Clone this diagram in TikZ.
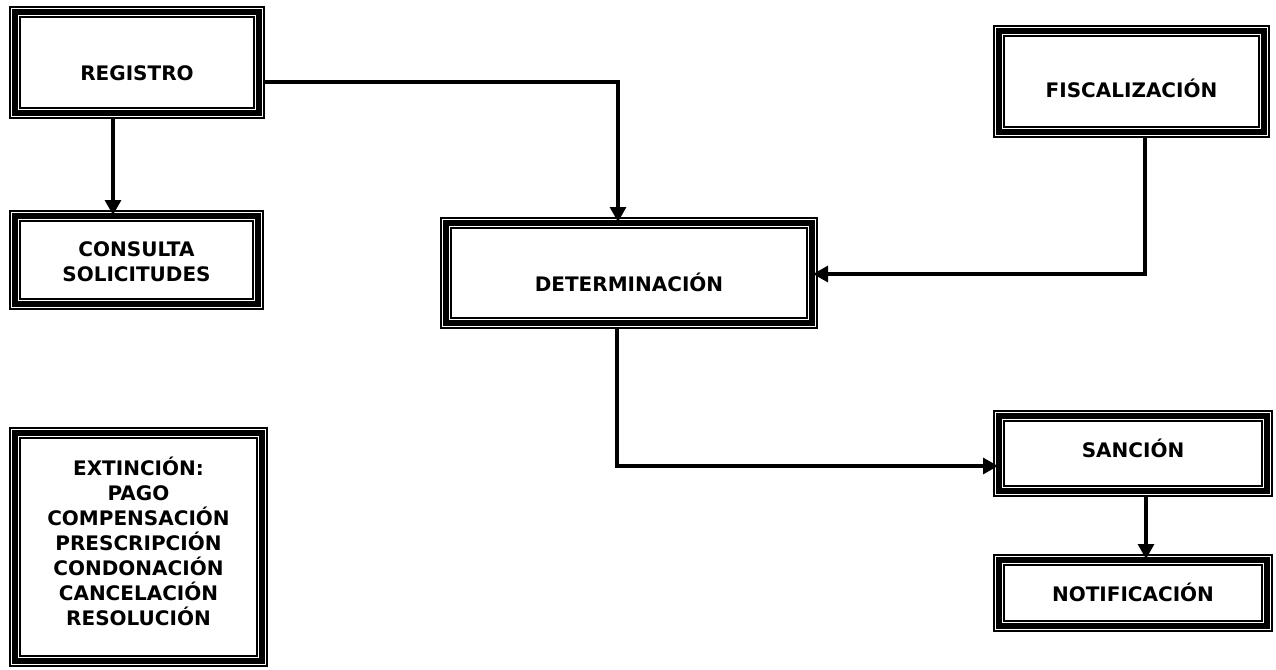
\documentclass[tikz,border=0pt]{standalone}
\usepackage{fontspec}
\setmainfont{DejaVu Sans}
\usetikzlibrary{arrows.meta}
\begin{document}
\begin{tikzpicture}[x=1pt,y=-1pt,
  % box with a thin-thick-thin frame drawn inside its outline
  tribox/.style 2 args={minimum width=#1pt, minimum height=#2pt,
    inner sep=0pt, outer sep=0pt, fill=white,
    path picture={
      \draw[line width=1.8pt]
        ([shift={(0.9pt,-0.9pt)}]path picture bounding box.north west) rectangle
        ([shift={(-0.9pt,0.9pt)}]path picture bounding box.south east);
      \draw[line width=5.6pt]
        ([shift={(5.8pt,-5.8pt)}]path picture bounding box.north west) rectangle
        ([shift={(-5.8pt,5.8pt)}]path picture bounding box.south east);
      \draw[line width=2pt]
        ([shift={(11.4pt,-11.4pt)}]path picture bounding box.north west) rectangle
        ([shift={(-11.4pt,11.4pt)}]path picture bounding box.south east);
    }},
  lbl/.style={anchor=base, inner sep=0pt, align=center,
    font=\bfseries\fontsize{20}{25}\selectfont},
  conn/.style={line width=3.2pt, -{Triangle[length=15pt,width=16pt]},
    shorten >=-5pt}
]
\useasboundingbox (0,0) rectangle (1276,669);
\fill[white] (0,0) rectangle (1276,669);

% boxes
\node[tribox={256}{113}] (registro)      at (137,62.5)   {};
\node[tribox={255}{100}] (consulta)      at (136.5,260)  {};
\node[tribox={259}{240}] (extincion)     at (138.5,547)  {};
\node[tribox={378}{112}] (determinacion) at (629,273)    {};
\node[tribox={277}{113}] (fiscalizacion) at (1131.5,81.5){};
\node[tribox={280}{87}]  (sancion)       at (1133,453.5) {};
\node[tribox={280}{78}]  (notificacion)  at (1133,593)   {};

% texts (multi-line texts sit on the baseline of their last line)
\node[lbl] (registro-t)      at (137,80)     {REGISTRO};
\node[lbl] (consulta-t)      at (136.5,281.7){CONSULTA\\SOLICITUDES};
\node[lbl] (extincion-t)     at (138.5,625)  {EXTINCIÓN:\\PAGO\\COMPENSACIÓN\\PRESCRIPCIÓN\\CONDONACIÓN\\CANCELACIÓN\\RESOLUCIÓN};
\node[lbl] (determinacion-t) at (629,291)    {DETERMINACIÓN};
\node[lbl] (fiscalizacion-t) at (1131.5,97)  {FISCALIZACIÓN};
\node[lbl] (sancion-t)       at (1133,457)   {SANCIÓN};
\node[lbl] (notificacion-t)  at (1133,601.5) {NOTIFICACIÓN};

% bends of the connectors
\coordinate (k0) at (113,0);
\coordinate (k1) at (618,82);
\coordinate (k2) at (1145,274);
\coordinate (k3) at (617,466);
\coordinate (k4) at (1146,0);

% connectors
\draw[conn] (registro.south -| k0) -- (consulta.north -| k0);
\draw[conn] (registro.east |- k1) -- (k1) -- (determinacion.north -| k1);
\draw[conn] (fiscalizacion.south -| k2) -- (k2) -- (determinacion.east |- k2);
\draw[conn] (determinacion.south -| k3) -- (k3) -- (sancion.west |- k3);
\draw[conn] (sancion.south -| k4) -- (notificacion.north -| k4);
\end{tikzpicture}
\end{document}
